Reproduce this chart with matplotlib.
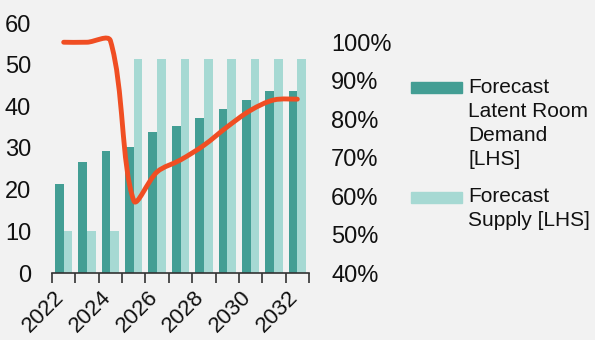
import matplotlib
matplotlib.use("Agg")
import matplotlib.pyplot as plt
import matplotlib.transforms as mtransforms
import numpy as np
from matplotlib.path import Path
from matplotlib.patches import PathPatch, Rectangle

plt.rcParams['font.family'] = ['Liberation Sans', 'DejaVu Sans']

years = [2022, 2023, 2024, 2025, 2026, 2027, 2028, 2029, 2030, 2031, 2032]
demand = [21.4, 26.6, 29.2, 30.2, 33.8, 35.4, 37.3, 39.4, 41.5, 43.6, 43.8]
supply = [10, 10, 10, 51.4, 51.4, 51.4, 51.4, 51.4, 51.4, 51.4, 51.4]
occupancy = [100, 100, 100.4, 58.8, 66.3, 69.4, 73.2, 78.0, 82.3, 85.0, 85.2]

dark = '#439e94'
light = '#a6d9d3'
orange = '#f04e23'
bg = '#f2f2f2'

fig = plt.figure(figsize=(5.95, 3.4), dpi=100, facecolor=bg)
ax = fig.add_axes([52 / 595, 67 / 340, 257 / 595, 250 / 340])
ax.set_facecolor(bg)

x = np.arange(len(years))
w = 0.37
ax.bar(x - w / 2, demand, w, color=dark, zorder=2)
ax.bar(x + w / 2, supply, w, color=light, zorder=2)

ax.set_xlim(-0.5, len(years) - 0.5)
ax.set_ylim(0, 60)
ax.set_yticks(range(0, 61, 10))
ax.tick_params(axis='y', length=0, labelsize=17, pad=15, colors='#111111')

ax.set_xticks(x[::2])
ax.set_xticklabels([str(y) for y in years[::2]], rotation=45, ha='right',
                   fontsize=16, color='#111111')
ax.tick_params(axis='x', which='major', length=0, pad=10)
shift = mtransforms.ScaledTranslation(5 / 100, 0, fig.dpi_scale_trans)
for lab in ax.get_xticklabels():
    lab.set_transform(lab.get_transform() + shift)
ax.set_xticks(np.arange(-0.5, len(years)), minor=True)
ax.tick_params(axis='x', which='minor', length=7, width=1.2, color='#333333', direction='out')

for s in ['top', 'left', 'right']:
    ax.spines[s].set_visible(False)
ax.spines['bottom'].set_color('#333333')
ax.spines['bottom'].set_linewidth(1.2)

ax2 = ax.twinx()
ax2.set_ylim(40, 105)
ax2.set_yticks(range(40, 101, 10))
ax2.set_yticklabels([f'{v}%' for v in range(40, 101, 10)])
ax2.tick_params(axis='y', length=0, labelsize=17, pad=16, colors='#111111')
for s in ax2.spines.values():
    s.set_visible(False)

# smoothed line like Excel: Bezier controls scaled by neighbouring segment lengths (screen space)
pts = ax2.transData.transform(np.column_stack([x, occupancy]).astype(float))
n = len(pts)
verts = [tuple(pts[0])]
codes = [Path.MOVETO]
for i in range(n - 1):
    a = pts[max(i - 1, 0)]
    b = pts[i]
    c = pts[i + 1]
    d = pts[min(i + 2, n - 1)]
    l_ab = np.hypot(*(b - a))
    l_bc = np.hypot(*(c - b))
    l_cd = np.hypot(*(d - c))
    c1 = b + (c - a) * (l_bc / (l_ab + l_bc) / 3 if l_ab > 0 else 1 / 6)
    c2 = c - (d - b) * (l_bc / (l_bc + l_cd) / 3 if l_cd > 0 else 1 / 6)
    verts += [tuple(c1), tuple(c2), tuple(c)]
    codes += [Path.CURVE4] * 3
verts = ax2.transData.inverted().transform(np.array(verts))
ax2.add_patch(PathPatch(Path(verts, codes), facecolor='none', edgecolor=orange,
                        lw=3.5, capstyle='round', joinstyle='round', zorder=3))

# legend
fig.patches.append(Rectangle((411 / 595, 1 - 93 / 340), 51 / 595, 11 / 340,
                             transform=fig.transFigure, color=dark))
fig.patches.append(Rectangle((411 / 595, 1 - 203 / 340), 51 / 595, 11 / 340,
                             transform=fig.transFigure, color=light))
fig.text(468 / 595, 1 - 78 / 340, 'Forecast\nLatent Room\nDemand\n[LHS]', fontsize=15,
         va='top', ha='left', linespacing=1.34, color='#111111')
fig.text(468 / 595, 1 - 187 / 340, 'Forecast\nSupply [LHS]', fontsize=15,
         va='top', ha='left', linespacing=1.34, color='#111111')

fig.savefig('out.png', dpi=100, facecolor=bg)
